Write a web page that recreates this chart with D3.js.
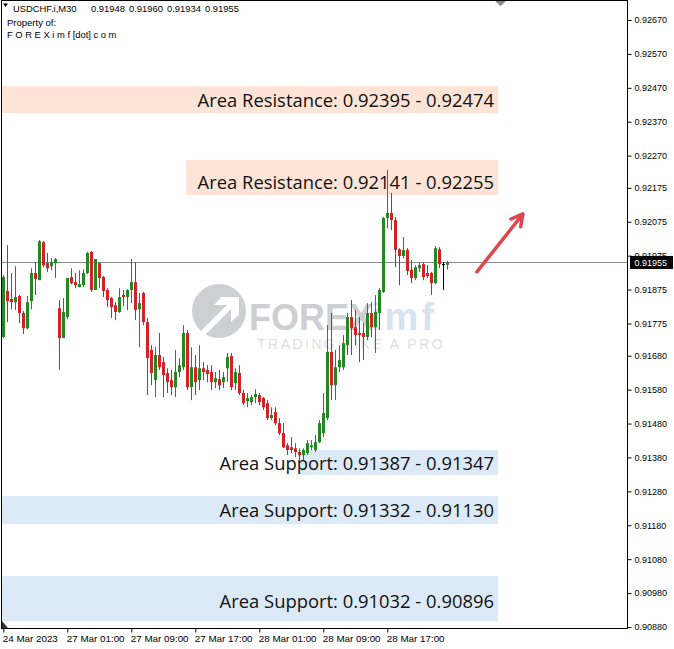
<!DOCTYPE html>
<html><head><meta charset="utf-8">
<script src="https://cdn.jsdelivr.net/npm/d3@7"></script>
<style>body{margin:0;background:#fff;} svg{display:block;}</style>
</head><body>
<svg id="c" width="674" height="649"></svg>
<script>
// ---- data (USDCHF.i M30) ----
const openP = [0.91735,0.91871,0.91847,0.91838,0.91856,0.91806,0.91761,0.91841,0.91924,0.91903,0.92015,0.91953,0.91944,0.91953,0.91820,0.91732,0.91794,0.91912,0.91897,0.91882,0.91888,0.91924,0.91986,0.91874,0.91953,0.91912,0.91874,0.91850,0.91829,0.91809,0.91859,0.91853,0.91874,0.91897,0.91817,0.91865,0.91779,0.91697,0.91608,0.91682,0.91661,0.91629,0.91608,0.91587,0.91632,0.91646,0.91747,0.91587,0.91646,0.91608,0.91643,0.91638,0.91632,0.91602,0.91611,0.91602,0.91643,0.91679,0.91599,0.91629,0.91570,0.91546,0.91543,0.91558,0.91564,0.91555,0.91540,0.91496,0.91514,0.91481,0.91452,0.91416,0.91410,0.91407,0.91396,0.91387,0.91393,0.91410,0.91402,0.91425,0.91452,0.91496,0.91691,0.91593,0.91646,0.91646,0.91711,0.91794,0.91764,0.91747,0.91747,0.91735,0.91806,0.91764,0.91806,0.91868,0.92086,0.92101,0.92080,0.91994,0.91974,0.91992,0.91933,0.91909,0.91938,0.91950,0.91924,0.91924,0.91894,0.91994,0.91950,0.91948];
const highP = [0.91918,0.92006,0.91924,0.91944,0.91859,0.91812,0.91856,0.91938,0.91956,0.92021,0.92018,0.91983,0.91968,0.91968,0.91844,0.91850,0.91909,0.91938,0.91924,0.91932,0.91935,0.91986,0.91989,0.91965,0.91956,0.91915,0.91879,0.91853,0.91838,0.91879,0.91874,0.91876,0.91965,0.91956,0.91865,0.91868,0.91791,0.91711,0.91705,0.91747,0.91676,0.91643,0.91638,0.91697,0.91673,0.91770,0.91756,0.91705,0.91682,0.91711,0.91661,0.91652,0.91652,0.91632,0.91638,0.91632,0.91688,0.91688,0.91643,0.91652,0.91579,0.91570,0.91564,0.91581,0.91570,0.91558,0.91549,0.91528,0.91528,0.91496,0.91481,0.91422,0.91440,0.91422,0.91407,0.91407,0.91431,0.91431,0.91446,0.91490,0.91570,0.91770,0.91806,0.91697,0.91711,0.91741,0.91806,0.91844,0.91815,0.91794,0.91776,0.91835,0.91838,0.91859,0.91879,0.92089,0.92228,0.92160,0.92089,0.91997,0.92030,0.91997,0.91962,0.91947,0.91956,0.91956,0.91947,0.91927,0.92003,0.92000,0.91956,0.91960];
const lowP  = [0.91732,0.91779,0.91817,0.91815,0.91776,0.91744,0.91758,0.91817,0.91859,0.91903,0.91941,0.91927,0.91932,0.91909,0.91638,0.91732,0.91788,0.91891,0.91879,0.91882,0.91882,0.91921,0.91868,0.91874,0.91879,0.91853,0.91823,0.91791,0.91785,0.91806,0.91826,0.91815,0.91835,0.91785,0.91705,0.91770,0.91564,0.91593,0.91558,0.91638,0.91558,0.91570,0.91564,0.91558,0.91617,0.91638,0.91579,0.91549,0.91564,0.91579,0.91608,0.91602,0.91579,0.91584,0.91579,0.91584,0.91602,0.91579,0.91579,0.91564,0.91534,0.91528,0.91534,0.91540,0.91534,0.91520,0.91490,0.91490,0.91475,0.91446,0.91407,0.91387,0.91393,0.91381,0.91372,0.91372,0.91387,0.91402,0.91396,0.91422,0.91440,0.91490,0.91549,0.91549,0.91632,0.91638,0.91682,0.91682,0.91711,0.91661,0.91667,0.91726,0.91735,0.91688,0.91756,0.91865,0.92056,0.92050,0.91941,0.91888,0.91968,0.91918,0.91894,0.91903,0.91927,0.91903,0.91909,0.91859,0.91891,0.91938,0.91874,0.91934];
const closeP= [0.91912,0.91841,0.91838,0.91853,0.91806,0.91761,0.91838,0.91924,0.91906,0.92018,0.91947,0.91938,0.91956,0.91965,0.91732,0.91809,0.91909,0.91894,0.91888,0.91891,0.91924,0.91983,0.91874,0.91965,0.91909,0.91871,0.91844,0.91823,0.91809,0.91853,0.91853,0.91874,0.91897,0.91815,0.91835,0.91779,0.91673,0.91629,0.91682,0.91646,0.91623,0.91602,0.91587,0.91632,0.91652,0.91747,0.91587,0.91646,0.91602,0.91643,0.91632,0.91626,0.91602,0.91614,0.91593,0.91617,0.91676,0.91587,0.91632,0.91570,0.91540,0.91555,0.91558,0.91567,0.91543,0.91528,0.91496,0.91505,0.91481,0.91452,0.91410,0.91402,0.91402,0.91396,0.91387,0.91402,0.91422,0.91416,0.91425,0.91481,0.91511,0.91691,0.91593,0.91646,0.91667,0.91717,0.91794,0.91761,0.91741,0.91741,0.91735,0.91806,0.91764,0.91809,0.91874,0.92086,0.92101,0.92080,0.91992,0.91974,0.91992,0.91930,0.91909,0.91941,0.91947,0.91912,0.91915,0.91894,0.91997,0.91950,0.91950,0.91955];

const priceTicks = [0.92670,0.92570,0.92470,0.92370,0.92270,0.92175,0.92075,0.91975,0.91875,0.91775,0.91680,0.91580,0.91480,0.91380,0.91280,0.91180,0.91080,0.90980,0.90880];
const timeTickIdx = [0,16,32,48,64,80,96];
const timeLabels = ["24 Mar 2023","27 Mar 01:00","27 Mar 09:00","27 Mar 17:00","28 Mar 01:00","28 Mar 09:00","28 Mar 17:00"];
const lastPrice = 0.91955;

const zoneLabels = ["Area Resistance: 0.92395 - 0.92474","Area Resistance: 0.92141 - 0.92255","Area Support: 0.91387 - 0.91347","Area Support: 0.91332 - 0.91130","Area Support: 0.91032 - 0.90896"];
const zoneTop    = [0.92475,0.92257,0.91402,0.91266,0.91030];
const zoneBottom = [0.92396,0.92154,0.91328,0.91183,0.90897];
const zoneLabelAt= [0.92434,0.92192,0.91363,0.91225,0.90956];
const zoneFrom   = [-2,45.7,74.2,-2,-2];
const zoneTo     = [123.7,123.7,123.7,123.7,123.7];
const zoneKind   = ["res","res","sup","sup","sup"];

const headerSymbol = "USDCHF.i,M30";
const headerOHLC = "0.91948 0.91960 0.91934 0.91955";
const headerLines = ["Property of:","F O R E X i m f [dot] c o m"];
const arrowFrom = [118.4, 0.91927], arrowTo = [129.9, 0.92098];

// ---- drawing ----
const svg = d3.select("#c");
const L = 1.5, R = 627.5, T = 0.5, B = 628.5;
const x = d3.scaleLinear().domain([0,111]).range([3.3,447.3]);
const y = d3.scaleLinear().domain([0.90880,0.92670]).range([627,20]);
const bull = "#208a20", bear = "#d42222";

svg.append("rect").attr("width",674).attr("height",649).attr("fill","#fff");
svg.append("defs").append("clipPath").attr("id","plot")
  .append("rect").attr("x",L+0.5).attr("y",T+0.5).attr("width",R-L-1).attr("height",B-T-1);
const g = svg.append("g").attr("clip-path","url(#plot)");

// zones
const zoneFill = {res:"#fde4d6", sup:"#dce9f7"};
zoneLabels.forEach((t,i)=>{
  g.append("rect").attr("x",x(zoneFrom[i])).attr("y",y(zoneTop[i]))
   .attr("width",x(zoneTo[i])-x(zoneFrom[i])).attr("height",y(zoneBottom[i])-y(zoneTop[i]))
   .attr("fill",zoneFill[zoneKind[i]]);
});

// watermark
const wm = g.append("g").attr("opacity",0.85);
const wf = "Liberation Sans, Arial, sans-serif";
wm.append("circle").attr("cx",219).attr("cy",311).attr("r",27).attr("fill","#c6c7cc");
wm.append("path").attr("d","M200,332 L227,305 L214,305 L221,297 L239,297 L239,315 L231,322 L231,309 L204,336 Z").attr("fill","#fff");
wm.append("text").attr("x",249).attr("y",330).attr("font-family",wf)
  .attr("font-weight","bold").attr("font-size",36).attr("fill","#c6c7cc").text("FOREX");
wm.append("text").attr("x",371).attr("y",330).attr("font-family",wf)
  .attr("font-weight","bold").attr("font-size",38).attr("fill","#cfe0ef").attr("letter-spacing",3).text("imf");
wm.append("text").attr("x",257).attr("y",349).attr("font-family",wf)
  .attr("font-size",14).attr("fill","#d9dade").attr("letter-spacing",2.5).text("TRADING LIKE A PRO");

// current price line
g.append("line").attr("x1",L).attr("x2",R).attr("y1",Math.round(y(lastPrice))+0.5).attr("y2",Math.round(y(lastPrice))+0.5)
  .attr("stroke","#858f90").attr("stroke-width",1);

// candles
const idx = d3.range(openP.length);
const cg = g.append("g");
idx.forEach(i=>{
  const o=openP[i], c=closeP[i];
  const col = c>o ? bull : (c<o ? bear : "#000");
  const cx = Math.round(x(i))+0.5;
  cg.append("line").attr("x1",cx).attr("x2",cx).attr("y1",y(highP[i])).attr("y2",y(lowP[i]))
    .attr("stroke",col).attr("stroke-width",1);
  const top = y(Math.max(o,c)), bot = y(Math.min(o,c));
  cg.append("rect").attr("x",cx-1.5).attr("y",top).attr("width",3).attr("height",Math.max(1,bot-top)).attr("fill",col);
});

// zone labels
zoneLabels.forEach((t,i)=>{
  g.append("text").attr("x",494).attr("y",y(zoneLabelAt[i]))
   .attr("dy","0.36em").attr("text-anchor","end")
   .attr("font-family","Open Sans, Noto Sans, sans-serif").attr("font-size",18.4).attr("fill","#111")
   .text(t);
});

// arrow
const ax1=x(arrowFrom[0]), ay1=y(arrowFrom[1]), ax2=x(arrowTo[0]), ay2=y(arrowTo[1]);
const ang=Math.atan2(ay2-ay1,ax2-ax1), hl=13, ha=0.5;
g.append("path").attr("d",`M${ax1},${ay1}L${ax2},${ay2}M${ax2-hl*Math.cos(ang-ha)},${ay2-hl*Math.sin(ang-ha)}L${ax2},${ay2}L${ax2-hl*Math.cos(ang+ha)},${ay2-hl*Math.sin(ang+ha)}`)
  .attr("stroke","#e0474c").attr("stroke-width",3.5).attr("fill","none").attr("stroke-linecap","round").attr("stroke-linejoin","round");

// frame
svg.append("rect").attr("x",L).attr("y",T).attr("width",R-L).attr("height",B-T).attr("fill","none").attr("stroke","#000");

// markers
svg.append("path").attr("d","M495,1 L506,1 L500.5,6 Z").attr("fill","#8a8a8a");
svg.append("path").attr("d","M2,621 L2,628 L8,628 Z").attr("fill","#333");

// right axis
const yAxis = d3.axisRight(y).tickValues(priceTicks).tickFormat(d3.format(".5f")).tickSize(4).tickPadding(3);
const ya = svg.append("g").attr("transform",`translate(${R},0)`).call(yAxis);
ya.select(".domain").remove();
ya.selectAll("text").attr("font-family","Liberation Sans, Arial, sans-serif").attr("font-size",9).attr("fill","#000");

// last price box
const ly = y(lastPrice);
svg.append("rect").attr("x",R+2.5).attr("y",ly-6.5).attr("width",43).attr("height",13).attr("fill","#000");
svg.append("text").attr("x",R+7).attr("y",ly).attr("dy","0.34em").attr("font-family","Liberation Sans, Arial, sans-serif")
  .attr("font-size",9).attr("fill","#fff").text(d3.format(".5f")(lastPrice));

// bottom axis
const xAxis = d3.axisBottom(x).tickValues(timeTickIdx).tickFormat((d,i)=>timeLabels[i]).tickSize(4).tickPadding(3);
const xa = svg.append("g").attr("transform",`translate(0,${B})`).call(xAxis);
xa.select(".domain").remove();
xa.selectAll("text").attr("text-anchor","start").attr("dx",-1).attr("font-family","Liberation Sans, Arial, sans-serif").attr("font-size",9.8).attr("fill","#000");

// header
const hf = "Liberation Sans, Arial, sans-serif";
svg.append("path").attr("d","M3,3.5 L8,3.5 L5.5,7 Z").attr("fill","#000");
svg.append("text").attr("x",13).attr("y",11.5).attr("font-family",hf).attr("font-size",9.4).attr("fill","#000").text(headerSymbol);
svg.append("text").attr("x",91).attr("y",11.5).attr("font-family",hf).attr("font-size",9.4).attr("word-spacing",1.5).attr("fill","#000").text(headerOHLC);
svg.append("text").attr("x",7).attr("y",25.5).attr("font-family",hf).attr("font-size",9.5).attr("fill","#000").text(headerLines[0]);
svg.append("text").attr("x",7).attr("y",37.5).attr("font-family",hf).attr("font-size",9.4).attr("fill","#000").text(headerLines[1]);
</script>
</body></html>
